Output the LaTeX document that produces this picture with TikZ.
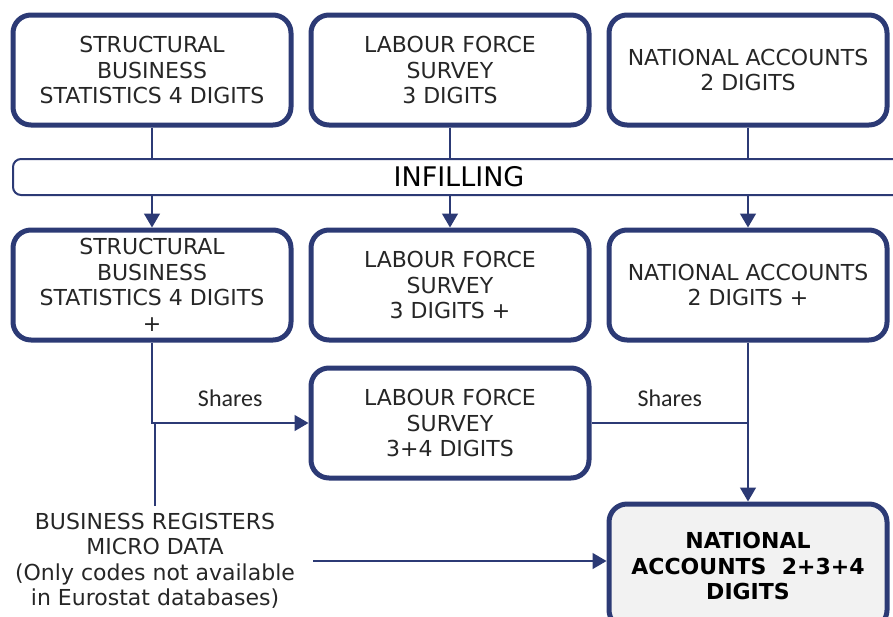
\documentclass[tikz,border=0pt]{standalone}
\usepackage{fontspec}
\setmainfont{DejaVu Sans}
\newfontfamily\sharefont{Carlito}
\usepackage{tikz}
\usetikzlibrary{arrows.meta,positioning}
\definecolor{navy}{RGB}{44,58,117}
\definecolor{inkgray}{RGB}{38,38,38}
\definecolor{paleface}{RGB}{242,242,242}

\begin{document}
\begin{tikzpicture}[
    x=0.5pt, y=-0.5pt,
    node distance=7.5pt,
    databox/.style={draw=navy, line width=2.5pt, rounded corners=9pt, minimum width=139pt, minimum height=55pt, align=center, text=inkgray, font=\fontsize{11}{12.75}\selectfont},
    resultbox/.style={databox, fill=paleface, text=black, minimum height=62pt, font=\bfseries\fontsize{11}{12.75}\selectfont},
    infillbar/.style={draw=navy, line width=1pt, rounded corners=4pt, minimum width=446pt, minimum height=18pt, inner sep=0pt, font=\fontsize{13.5}{15}\selectfont},
    sourcenote/.style={align=center, text=inkgray, inner xsep=9pt, font=\fontsize{11}{12.75}\selectfont},
    link/.style={draw=navy, line width=0.75pt},
    arrow/.style={link, -{Triangle[length=7pt, width=8pt]}},
    sharelabel/.style={above=4.5pt, text=inkgray, font=\sharefont\fontsize{12}{14}\selectfont}
  ]
    \useasboundingbox (0,0) rectangle (893,616);
    \clip (0,0) rectangle (893,616);
    % sources
    \node[databox] (sbs) at (152,70) {STRUCTURAL\\BUSINESS\\STATISTICS 4 DIGITS};
    \node[databox, right=of sbs] (lfs) {LABOUR FORCE\\SURVEY\\3 DIGITS};
    \node[databox, right=of lfs] (na) {NATIONAL ACCOUNTS\\2 DIGITS};
    \node[infillbar, anchor=west] (infill) at (12,177) {INFILLING};
    % after infilling
    \node[databox, below=50pt of sbs] (sbsplus) {STRUCTURAL\\BUSINESS\\STATISTICS 4 DIGITS\\+};
    \node[databox, below=50pt of lfs] (lfsplus) {LABOUR FORCE\\SURVEY\\3 DIGITS +};
    \node[databox, below=50pt of na] (naplus) {NATIONAL ACCOUNTS\\2 DIGITS +};
    \node[databox, below=11.5pt of lfsplus] (lfs34) {LABOUR FORCE\\SURVEY\\3+4 DIGITS};
    \node[resultbox, below=79.5pt of naplus] (natacc) {NATIONAL\\ACCOUNTS\ \ 2+3+4\\DIGITS};
    \node[sourcenote] (bizreg) at (155,561) {BUSINESS REGISTERS\\MICRO DATA\\(Only codes not available\\in Eurostat databases)};
    \foreach \upper/\lower in {sbs/sbsplus, lfs/lfsplus, na/naplus} {
      \draw[link] (\upper) -- (\upper.south |- infill.north);
      \draw[arrow] (\upper.south |- infill.south) -- (\lower);
    }
    \draw[arrow] (sbsplus) |- (lfs34) node[sharelabel, pos=0.75] {Shares};
    \draw[link] (lfs34) -- (lfs34 -| naplus) node[sharelabel, midway] {Shares};
    \draw[arrow] (naplus) -- (natacc);
    \draw[link] (bizreg.north) -- (bizreg.north |- lfs34);
    \draw[arrow] (bizreg.east) -- (bizreg.east -| natacc.west);
  \end{tikzpicture}
\end{document}
